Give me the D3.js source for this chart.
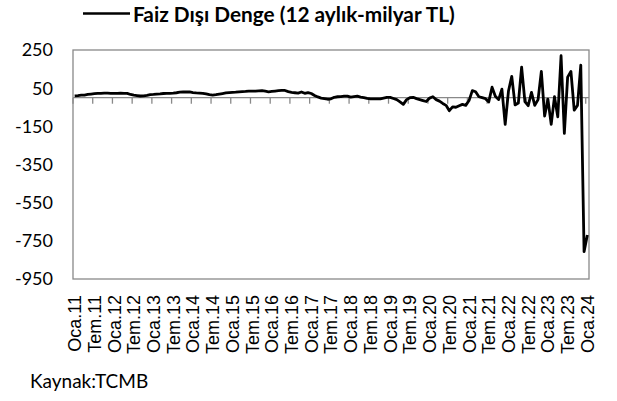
<html>
<head>
<title>Faiz Dışı Denge</title>
<script src="https://cdnjs.cloudflare.com/ajax/libs/d3/7.8.5/d3.min.js"></script>
<style>
    body {
        margin: 0;
        background: #fff;
    }
    svg {
        display: block;
    }
</style>
</head>
<body>
<div id="chart"></div>

<script>

// aylik seri, Oca.11 - Oca.24 (milyar TL)
var monthNames = ["Oca", "Şub", "Mar", "Nis", "May", "Haz", "Tem", "Ağu", "Eyl", "Eki", "Kas", "Ara"];
var years = ["11", "12", "13", "14", "15", "16", "17", "18", "19", "20", "21", "22", "23", "24"];

var values = [
    10, 11, 13, 14, 17, 19, 21, 23, 23, 24, 24, 23,          // 2011
    23, 23, 24, 23, 23, 17, 13, 11, 9, 10, 12, 16,           // 2012
    17, 19, 20, 22, 23, 23, 24, 26, 29, 30, 31, 30,          // 2013
    27, 25, 24, 23, 20, 16, 14, 16, 19, 22, 25, 27,          // 2014
    28, 29, 31, 32, 33, 35, 34, 35, 36, 37, 34, 31,          // 2015
    33, 35, 37, 38, 38, 32, 28, 26, 24, 30, 23, 27,          // 2016
    22, 12, 4, -2, -5, -8, -6, 2, 5, 6, 8, 8,                // 2017
    3, 6, 8, 3, 0, -4, -6, -6, -6, -6, -2, 2,                // 2018
    2, -4, -10, -22, -35, -10, 0, 2, -5, -10, -15, -20,      // 2019
    -2, 5, -10, -18, -30, -40, -68, -48, -50, -42, -35, -40, // 2020
    -15, 37, 31, 5, 0, -5, -22, 55, 8, -10, 45, -140,        // 2021
    35, 112, -38, -28, 160, -20, -42, 28, -40, -10, 138, -96, // 2022
    -8, -140, 5, -100, 220, -187, 108, 138, -65, -40, 171, -807, // 2023
    -719                                                      // 2024
];

var yTicks = [250, 50, -150, -350, -550, -750, -950];
var seriesName = "Faiz Dışı Denge (12 aylık-milyar TL)";
var source = "Kaynak:TCMB";

var categories = [];
years.forEach(function (y) {
    monthNames.forEach(function (m) {
        categories.push(m + "." + y);
    });
});
categories = categories.slice(0, values.length);

var data = values.map(function (v, i) {
    return { cat: categories[i], value: v };
});

var width = 617, height = 401;
var plot = { left: 73, right: 589, top: 50, bottom: 279 };

var svg = d3.select("#chart")
    .append("svg")
    .attr("width", width)
    .attr("height", height);

svg.append("rect")
    .attr("width", width)
    .attr("height", height)
    .style("fill", "white");

//scales
var xScale = d3.scalePoint()
    .domain(categories)
    .range([plot.left, plot.right])
    .padding(0.5);
var step = xScale.step();

var yScale = d3.scaleLinear()
    .domain([-950, 250])
    .range([plot.bottom, plot.top]);

//plot frame
svg.append("rect")
    .attr("x", plot.left)
    .attr("y", plot.top)
    .attr("width", plot.right - plot.left)
    .attr("height", plot.bottom - plot.top)
    .style("fill", "none")
    .style("stroke", "#898989")
    .style("stroke-width", "1.3px");

//y labels
svg.selectAll(".ylab")
    .data(yTicks)
    .enter().append("text")
    .attr("class", "ylab")
    .attr("x", plot.left - 20)
    .attr("y", function (d) { return yScale(d); })
    .attr("dy", "0.36em")
    .attr("text-anchor", "end")
    .style("font-family", "Lato, 'Open Sans', sans-serif")
    .style("font-size", "18px")
    .style("fill", "#000")
    .text(function (d) { return d; });

//zero axis with ticks every 6 months
var y0 = yScale(0);
svg.append("line")
    .attr("x1", plot.left)
    .attr("x2", plot.right)
    .attr("y1", y0)
    .attr("y2", y0)
    .style("stroke", "#898989")
    .style("stroke-width", "1.3px");

var tickCats = categories.filter(function (c, i) { return i % 6 == 0; });

svg.selectAll(".xtick")
    .data(tickCats)
    .enter().append("line")
    .attr("class", "xtick")
    .attr("x1", function (d) { return xScale(d) - step / 2; })
    .attr("x2", function (d) { return xScale(d) - step / 2; })
    .attr("y1", y0)
    .attr("y2", y0 + 6)
    .style("stroke", "#898989")
    .style("stroke-width", "1.3px");

//x labels, rotated
svg.selectAll(".xlab")
    .data(tickCats)
    .enter().append("text")
    .attr("class", "xlab")
    .attr("transform", function (d) {
        return "translate(" + xScale(d) + "," + (plot.bottom + 16) + ") rotate(-90)";
    })
    .attr("dy", "0.36em")
    .attr("text-anchor", "end")
    .style("font-family", "'Liberation Sans', Arial, sans-serif")
    .style("font-size", "18px")
    .style("fill", "#000")
    .text(function (d) { return d; });

//series line
var line = d3.line()
    .x(function (d) { return xScale(d.cat); })
    .y(function (d) { return yScale(d.value); });

svg.append("path")
    .datum(data)
    .attr("d", line)
    .style("fill", "none")
    .style("stroke", "#000")
    .style("stroke-width", "2.8px")
    .style("stroke-linejoin", "round");

//legend / title
svg.append("line")
    .attr("x1", 83)
    .attr("x2", 130)
    .attr("y1", 13.5)
    .attr("y2", 13.5)
    .style("stroke", "#000")
    .style("stroke-width", "2.5px");

svg.append("text")
    .attr("x", 133)
    .attr("y", 21.5)
    .style("font-family", "Lato, 'Open Sans', sans-serif")
    .style("font-weight", "bold")
    .style("font-size", "20.8px")
    .text(seriesName);

//source
svg.append("text")
    .attr("x", 30)
    .attr("y", 388)
    .style("font-family", "Lato, 'Open Sans', sans-serif")
    .style("font-size", "19px")
    .text(source);

</script>
</body>
</html>
